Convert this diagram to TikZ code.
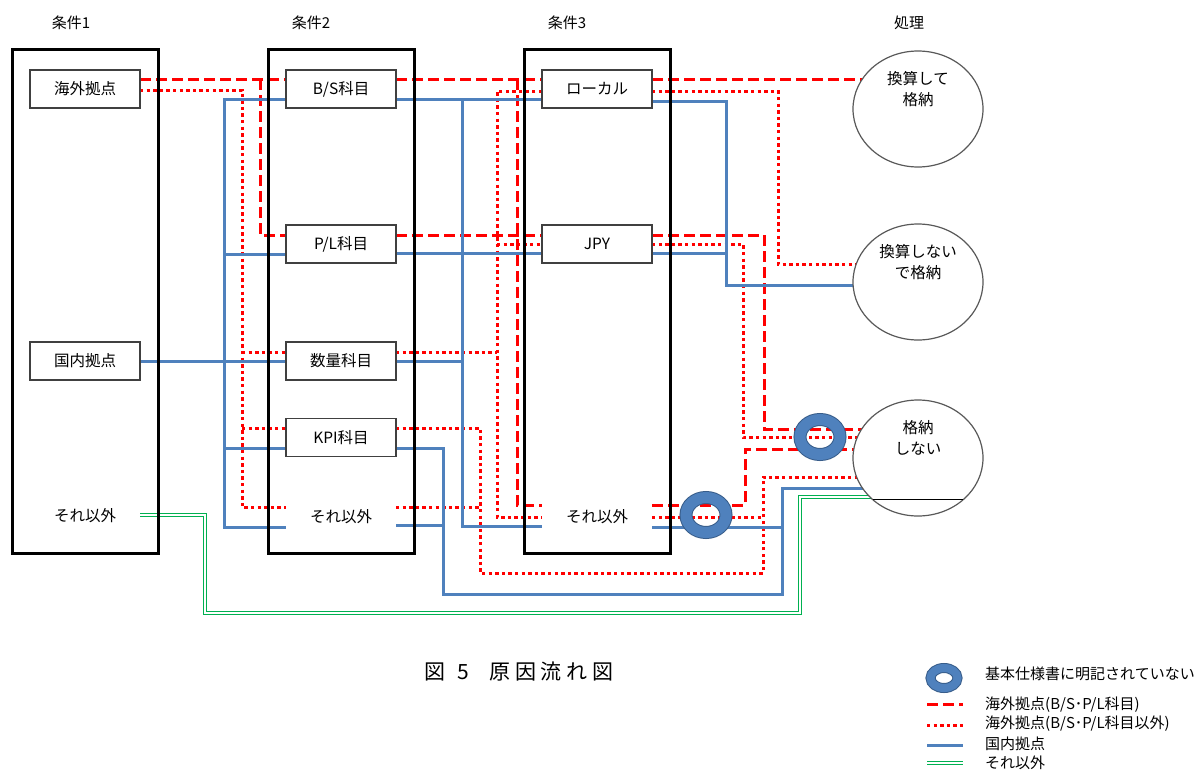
\documentclass[tikz,border=0pt]{standalone}
\usepackage{fontspec}
\setmainfont{Noto Sans CJK JP}
\usetikzlibrary{shapes.geometric,calc}
\pgfdeclarelayer{bg}
\pgfsetlayers{bg,main}
\definecolor{rd}{RGB}{255,0,0}
\definecolor{bl}{RGB}{79,129,189}
\definecolor{bldk}{RGB}{56,93,138}
\definecolor{gn}{RGB}{0,176,80}
\begin{document}
\begin{tikzpicture}[x=1pt,y=-1pt,
  bigbox/.style={draw=black,line width=3pt,minimum width=146pt,minimum height=504pt,inner sep=0pt,outer sep=0pt},
  item/.style={draw=black!75,line width=1.1pt,fill=white,minimum width=110pt,minimum height=38pt,inner sep=0pt,outer sep=0pt,font=\fontsize{15.5}{15.5}\selectfont},
  plain/.style={minimum width=110pt,minimum height=38pt,inner sep=0pt,outer sep=0pt,font=\fontsize{15.5}{15.5}\selectfont},
  head/.style={font=\fontsize{15}{15}\selectfont,inner sep=0pt},
  proc/.style={ellipse,draw=black!65,line width=1.2pt,fill=white,minimum width=130pt,minimum height=116pt,inner sep=0pt,outer sep=0pt},
  ptext/.style={align=center,font=\fontsize{15.5}{21}\selectfont,inner sep=0pt},
  donut/.style={ellipse,draw=bldk,double=bl,line width=1pt,double distance=11pt,minimum width=40pt,minimum height=35pt,inner sep=0pt},
  ldonut/.style={ellipse,draw=bldk,double=bl,line width=1pt,double distance=8pt,minimum width=27pt,minimum height=20pt,inner sep=0pt},
  rdash/.style={draw=rd,line width=3pt,dash pattern=on 11pt off 5pt},
  rdot/.style={draw=rd,line width=3pt,dash pattern=on 3.3pt off 3.3pt},
  blu/.style={draw=bl,line width=3pt},
  grn/.style={draw=gn,line width=1pt,double=white,double distance=1.6pt},
  ltext/.style={anchor=west,inner sep=0pt,font=\fontsize{15}{15}\selectfont},
]
\useasboundingbox (0,0) rectangle (1199,771);

% headers
\node[head] (h1) at (71,23) {条件1};
\node[head] (h2) at (311,23) {条件2};
\node[head] (h3) at (567,23) {条件3};
\node[head] (h4) at (909,23) {処理};

% big boxes
\node[bigbox] (c1) at (85,301) {};
\node[bigbox] (c2) at (341,301) {};
\node[bigbox] (c3) at (597,301) {};

% items
\node[item] (hk) at (85,89) {海外拠点};
\node[item] (kn) at (85,361) {国内拠点};
\node[plain] (so1) at (85,516) {それ以外};
\node[item] (bs) at (341,89) {B/S科目};
\node[item] (pl) at (341,244) {P/L科目};
\node[item] (sr) at (341,361) {数量科目};
\node[item] (kp) at (341,437.5) {KPI科目};
\node[plain] (so2) at (341,517) {それ以外};
\node[item] (lo) at (597,89) {ローカル};
\node[item] (jp) at (597,244) {JPY};
\node[plain] (so3) at (597,517) {それ以外};

% process ellipses
\node[proc] (e1) at (918,109) {};
\node[proc] (e2) at (918,282) {};
\node[proc] (e3) at (918,458) {};
\node[ptext] (t1) at (918,89) {換算して\\格納};
\node[ptext] (t2) at (918,262) {換算しない\\で格納};
\node[ptext] (t3) at (918,438) {格納\\しない};
\draw[black,line width=0.8pt] ($(e3.center)+(-45,41)$) -- ($(e3.center)+(45,41)$);

\begin{pgfonlayer}{bg}
% red dashed
\draw[rdash] (hk.east |- 0,79) -- (bs.west |- 0,79);
\draw[rdash] (260,79) -- (260,235) -- (pl.west |- 0,235);
\draw[rdash] (bs.east |- 0,79) -- (lo.west |- 0,79);
\draw[rdash] (pl.east |- 0,235) -- (jp.west |- 0,235);
\draw[rdash] (517,79) -- (517,505) -- (so3.west |- 0,505);
\draw[rdash] (lo.east |- 0,79) -- (e1.center |- 0,79);
\draw[rdash] (jp.east |- 0,235) -- (764,235) -- (764,429) -- (e3.center |- 0,429);
\draw[rdash] (so3.east |- 0,505) -- (745,505) -- (745,449) -- (e3.center |- 0,449);
% red dotted
\draw[rdot] (hk.east |- 0,90) -- (242,90) -- (242,507) -- (so2.west |- 0,507);
\draw[rdot] (242,352) -- (sr.west |- 0,352);
\draw[rdot] (242,428) -- (kp.west |- 0,428);
\draw[rdot] (sr.east |- 0,352) -- (497,352);
\draw[rdot] (lo.west |- 0,91) -- (497,91) -- (497,517) -- (so3.west |- 0,517);
\draw[rdot] (497,244) -- (jp.west |- 0,244);
\draw[rdot] (kp.east |- 0,428) -- (480,428) -- (480,573) -- (763,573) -- (763,477) -- (e3.center |- 0,477);
\draw[rdot] (so2.east |- 0,507) -- (480,507);
\draw[rdot] (so3.east |- 0,517) -- (763,517);
\draw[rdot] (lo.east |- 0,91) -- (778,91) -- (778,264) -- (e2.center |- 0,264);
\draw[rdot] (jp.east |- 0,244) -- (743,244) -- (743,437) -- (e3.center |- 0,437);
% blue
\draw[blu] (kn.east) -- (sr.west |- kn.east);
\draw[blu] (bs.west |- 0,99) -- (224,99) -- (224,527) -- (so2.west |- 0,527);
\draw[blu] (224,254) -- (pl.west |- 0,254);
\draw[blu] (224,448) -- (kp.west |- 0,448);
\draw[blu] (bs.east |- 0,99) -- (lo.west |- 0,99);
\draw[blu] (pl.east |- 0,253) -- (jp.west |- 0,253);
\draw[blu] (462,99) -- (462,526) -- (so3.west |- 0,526);
\draw[blu] (sr.east |- 0,361) -- (462,361);
\draw[blu] (kp.east |- 0,448) -- (443,448) -- (443,594) -- (782,594) -- (782,488) -- (e3.center |- 0,488);
\draw[blu] (so2.east |- 0,525) -- (443,525);
\draw[blu] (so3.east |- 0,527) -- (782,527);
\draw[blu] (lo.east |- 0,101) -- (726,101) -- (726,285) -- (e2.center |- 0,285);
\draw[blu] (jp.east |- 0,253) -- (726,253);
% green
\draw[grn] (so1.east |- 0,515) -- (205,515) -- (205,613) -- (800,613) -- (800,497) -- (e3.center |- 0,497);
\end{pgfonlayer}

% donuts
\node[donut] (d1) at (820,437) {};
\node[donut] (d2) at (706,515) {};

% caption
\node[inner sep=0pt,font=\fontsize{21}{21}\selectfont\addfontfeature{LetterSpace=22}] (cap) at (519,672) {図\hspace{12pt}5\hspace{20pt}原因流れ図};

% legend
\node[ldonut] (ld) at (944,678) {};
\node[ltext] (lt0) at (985,674) {基本仕様書に明記されていない};
\coordinate (la1) at (927,704); \coordinate (lb1) at (963,704);
\coordinate (la2) at (927,725); \coordinate (lb2) at (963,725);
\coordinate (la3) at (927,745); \coordinate (lb3) at (963,745);
\coordinate (la4) at (927,763); \coordinate (lb4) at (963,763);
\draw[rdash] (la1) -- (lb1);
\draw[rdot] (la2) -- (lb2);
\draw[blu] (la3) -- (lb3);
\draw[grn] (la4) -- (lb4);
\node[ltext] (lt1) at (985,705) {海外拠点(B/S･P/L科目)};
\node[ltext] (lt2) at (985,724) {海外拠点(B/S･P/L科目以外)};
\node[ltext] (lt3) at (985,744) {国内拠点};
\node[ltext] (lt4) at (985,763) {それ以外};
\end{tikzpicture}
\end{document}
